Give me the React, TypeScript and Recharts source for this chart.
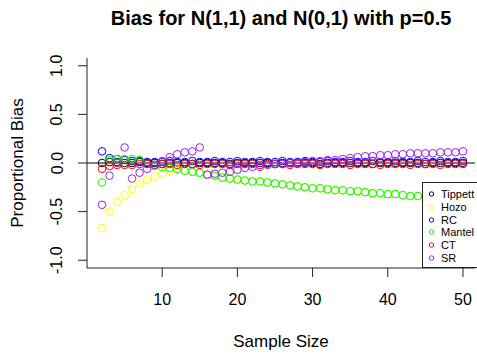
import React from "react";
import {
  ScatterChart,
  Scatter,
  XAxis,
  YAxis,
  ReferenceLine,
} from "recharts";

const sampleSizes = [
  2, 3, 4, 5, 6, 7, 8, 9, 10, 11, 12, 13, 14, 15, 16, 17, 18, 19, 20, 21, 22, 23, 24, 25, 26,
  27, 28, 29, 30, 31, 32, 33, 34, 35, 36, 37, 38, 39, 40, 41, 42, 43, 44, 45, 46, 47, 48, 49, 50,
];

const tippett = [
  0.0, 0.01, 0.01, 0.0, 0.0, 0.01, 0.0, 0.0, -0.01, 0.0, 0.0, 0.0, -0.01, 0.0, 0.0, 0.0, 0.0,
  -0.01, 0.0, 0.0, 0.0, 0.0, 0.0, -0.01, 0.0, 0.0, 0.0, 0.0, 0.0, -0.01, 0.0, 0.0, 0.0, 0.0, 0.0,
  0.0, -0.01, 0.0, 0.0, 0.0, 0.0, 0.0, 0.0, -0.01, 0.0, 0.0, 0.0, 0.0, 0.0,
];

const hozo = [
  -0.67, -0.5, -0.4, -0.33, -0.27, -0.21, -0.17, -0.14, -0.11, -0.08, -0.07, -0.08, -0.09, -0.1,
  -0.12, -0.13, -0.15, -0.16, -0.17, -0.18, -0.19, -0.19, -0.2, -0.21, -0.22, -0.23, -0.24, -0.25,
  -0.26, -0.26, -0.27, -0.28, -0.28, -0.29, -0.29, -0.3, -0.31, -0.31, -0.32, -0.32, -0.33, -0.34,
  -0.34, -0.35, -0.35, -0.36, -0.36, -0.37, -0.37,
];

const rc = [
  0.12, 0.05, 0.04, 0.03, 0.02, 0.02, 0.01, 0.01, 0.01, 0.02, 0.01, 0.01, 0.02, 0.01, 0.01, 0.02,
  0.01, 0.01, 0.02, 0.01, 0.01, 0.02, 0.01, 0.01, 0.02, 0.01, 0.01, 0.02, 0.01, 0.01, 0.02, 0.01,
  0.01, 0.02, 0.01, 0.01, 0.02, 0.01, 0.01, 0.02, 0.01, 0.01, 0.02, 0.01, 0.01, 0.02, 0.01, 0.01,
  0.02,
];

const mantel = [
  -0.2, 0.03, 0.04, 0.04, 0.04, 0.03, -0.01, -0.03, -0.04, -0.05, -0.06, -0.08, -0.09, -0.1,
  -0.12, -0.13, -0.15, -0.16, -0.17, -0.18, -0.19, -0.19, -0.2, -0.21, -0.22, -0.23, -0.24, -0.25,
  -0.26, -0.26, -0.27, -0.28, -0.28, -0.29, -0.29, -0.3, -0.31, -0.31, -0.32, -0.32, -0.33, -0.34,
  -0.34, -0.35, -0.35, -0.36, -0.36, -0.37, -0.37,
];

const ct = [
  -0.06, -0.03, -0.02, -0.02, -0.02, -0.01, -0.01, -0.02, -0.01, -0.01, -0.02, -0.01, -0.01,
  -0.02, -0.01, -0.01, -0.01, -0.02, -0.01, -0.01, -0.01, -0.02, -0.01, -0.01, -0.01, -0.02, -0.01,
  -0.01, -0.01, -0.02, -0.01, -0.01, -0.01, -0.02, -0.01, -0.01, -0.01, -0.02, -0.01, -0.01, -0.01,
  -0.02, -0.01, -0.01, -0.01, -0.02, -0.01, -0.01, -0.01,
];

const sr = [
  -0.43, -0.13, 0.0, 0.16, -0.16, -0.1, -0.06, -0.02, 0.02, 0.06, 0.09, 0.11, 0.12, 0.16, -0.12,
  -0.11, -0.1, -0.09, -0.07, -0.05, -0.04, -0.04, -0.02, -0.01, -0.01, 0.0, 0.0, 0.01, 0.02, 0.02,
  0.03, 0.03, 0.04, 0.05, 0.06, 0.07, 0.07, 0.08, 0.08, 0.09, 0.09, 0.1, 0.1, 0.1, 0.1, 0.11, 0.11,
  0.11, 0.12,
];

const xTicks = [10, 20, 30, 40, 50];
const yTicks = [-1, -0.5, 0, 0.5, 1];

const series = [
  { name: "Tippett", values: tippett, color: "#000000" },
  { name: "Hozo", values: hozo, color: "#FFFF00" },
  { name: "RC", values: rc, color: "#0000FF" },
  { name: "Mantel", values: mantel, color: "#00FF00" },
  { name: "CT", values: ct, color: "#FF0000" },
  { name: "SR", values: sr, color: "#A020F0" },
];

const FONT = "'Liberation Sans', Arial, sans-serif";
const AXIS = "#222";

const ring = (color: string) => (props: any) =>
  <circle cx={props.cx} cy={props.cy} r={3.8} fill="none" stroke={color} strokeWidth={1} />;

const YTick = (props: any) => {
  const { x, y, payload } = props;
  const cx = x - 19;
  return (
    <text
      x={cx}
      y={y}
      transform={`rotate(-90, ${cx}, ${y})`}
      textAnchor="middle"
      dominantBaseline="central"
      fontSize={16}
      fill="#000"
      fontFamily={FONT}
    >
      {Number(payload.value).toFixed(1)}
    </text>
  );
};

const YLabel = (props: any) => {
  const vb = props.viewBox;
  const x = vb.x + 10;
  const y = vb.y + vb.height / 2;
  return (
    <text
      x={x}
      y={y}
      transform={`rotate(-90, ${x}, ${y})`}
      textAnchor="middle"
      dominantBaseline="central"
      fontSize={17}
      fill="#000"
      fontFamily={FONT}
    >
      Proportional Bias
    </text>
  );
};

export default function App() {
  return (
    <div
      style={{
        position: "absolute",
        left: 0,
        top: 0,
        width: 477,
        height: 358,
        overflow: "hidden",
        background: "#fff",
        fontFamily: FONT,
      }}
    >
      <div
        style={{
          position: "absolute",
          left: 87,
          top: 8,
          width: 388,
          textAlign: "center",
          fontSize: 20,
          lineHeight: "20px",
          fontWeight: "bold",
          whiteSpace: "nowrap",
        }}
      >
        Bias for N(1,1) and N(0,1) with p=0.5
      </div>
      <ScatterChart
        width={477}
        height={358}
        margin={{ top: 58, right: 2, bottom: 5, left: 7 }}
      >
        <XAxis
          dataKey="x"
          type="number"
          domain={[0, 51.6]}
          ticks={xTicks}
          allowDataOverflow
          height={85}
          tickSize={9}
          tickMargin={17}
          stroke={AXIS}
          tick={{ fontSize: 16, fill: "#000", fontFamily: FONT }}
          label={{
            value: "Sample Size",
            position: "insideBottom",
            offset: 6,
            fontSize: 17,
            fill: "#000",
            fontFamily: FONT,
          }}
        />
        <XAxis
          xAxisId="top"
          orientation="top"
          type="number"
          domain={[0, 51.6]}
          height={0}
          tick={false}
          tickLine={false}
          stroke={AXIS}
        />
        <YAxis
          dataKey="y"
          type="number"
          domain={[-1.08, 1.08]}
          ticks={yTicks}
          allowDataOverflow
          width={80}
          tickSize={9}
          stroke={AXIS}
          tick={<YTick />}
          label={{ content: <YLabel /> }}
        />
        <YAxis
          yAxisId="right"
          orientation="right"
          type="number"
          domain={[-1.08, 1.08]}
          width={0}
          tick={false}
          tickLine={false}
          stroke={AXIS}
        />
        {series.map((s) => (
          <Scatter
            key={s.name}
            name={s.name}
            data={sampleSizes.map((x, i) => ({ x, y: s.values[i] }))}
            shape={ring(s.color)}
            isAnimationActive={false}
          />
        ))}
        <ReferenceLine y={0} stroke="#000" strokeWidth={1} />
      </ScatterChart>
      <div
        style={{
          position: "absolute",
          left: 422,
          top: 182,
          width: 55,
          height: 86,
          borderTop: `1px solid ${AXIS}`,
          borderLeft: `1px solid ${AXIS}`,
          borderBottom: `1px solid ${AXIS}`,
          background: "#fff",
          overflow: "hidden",
          paddingTop: 5,
          boxSizing: "border-box",
        }}
      >
        {series.map((s) => (
          <div
            key={s.name}
            style={{
              display: "flex",
              alignItems: "center",
              height: 12.7,
              fontSize: 11,
              lineHeight: "12px",
              whiteSpace: "nowrap",
            }}
          >
            <svg width={18} height={12} style={{ flex: "none" }}>
              <circle cx={8.5} cy={6} r={2.2} fill="none" stroke={s.color} strokeWidth={1} />
            </svg>
            <span style={{ lineHeight: "12px" }}>{s.name}</span>
          </div>
        ))}
      </div>
    </div>
  );
}
